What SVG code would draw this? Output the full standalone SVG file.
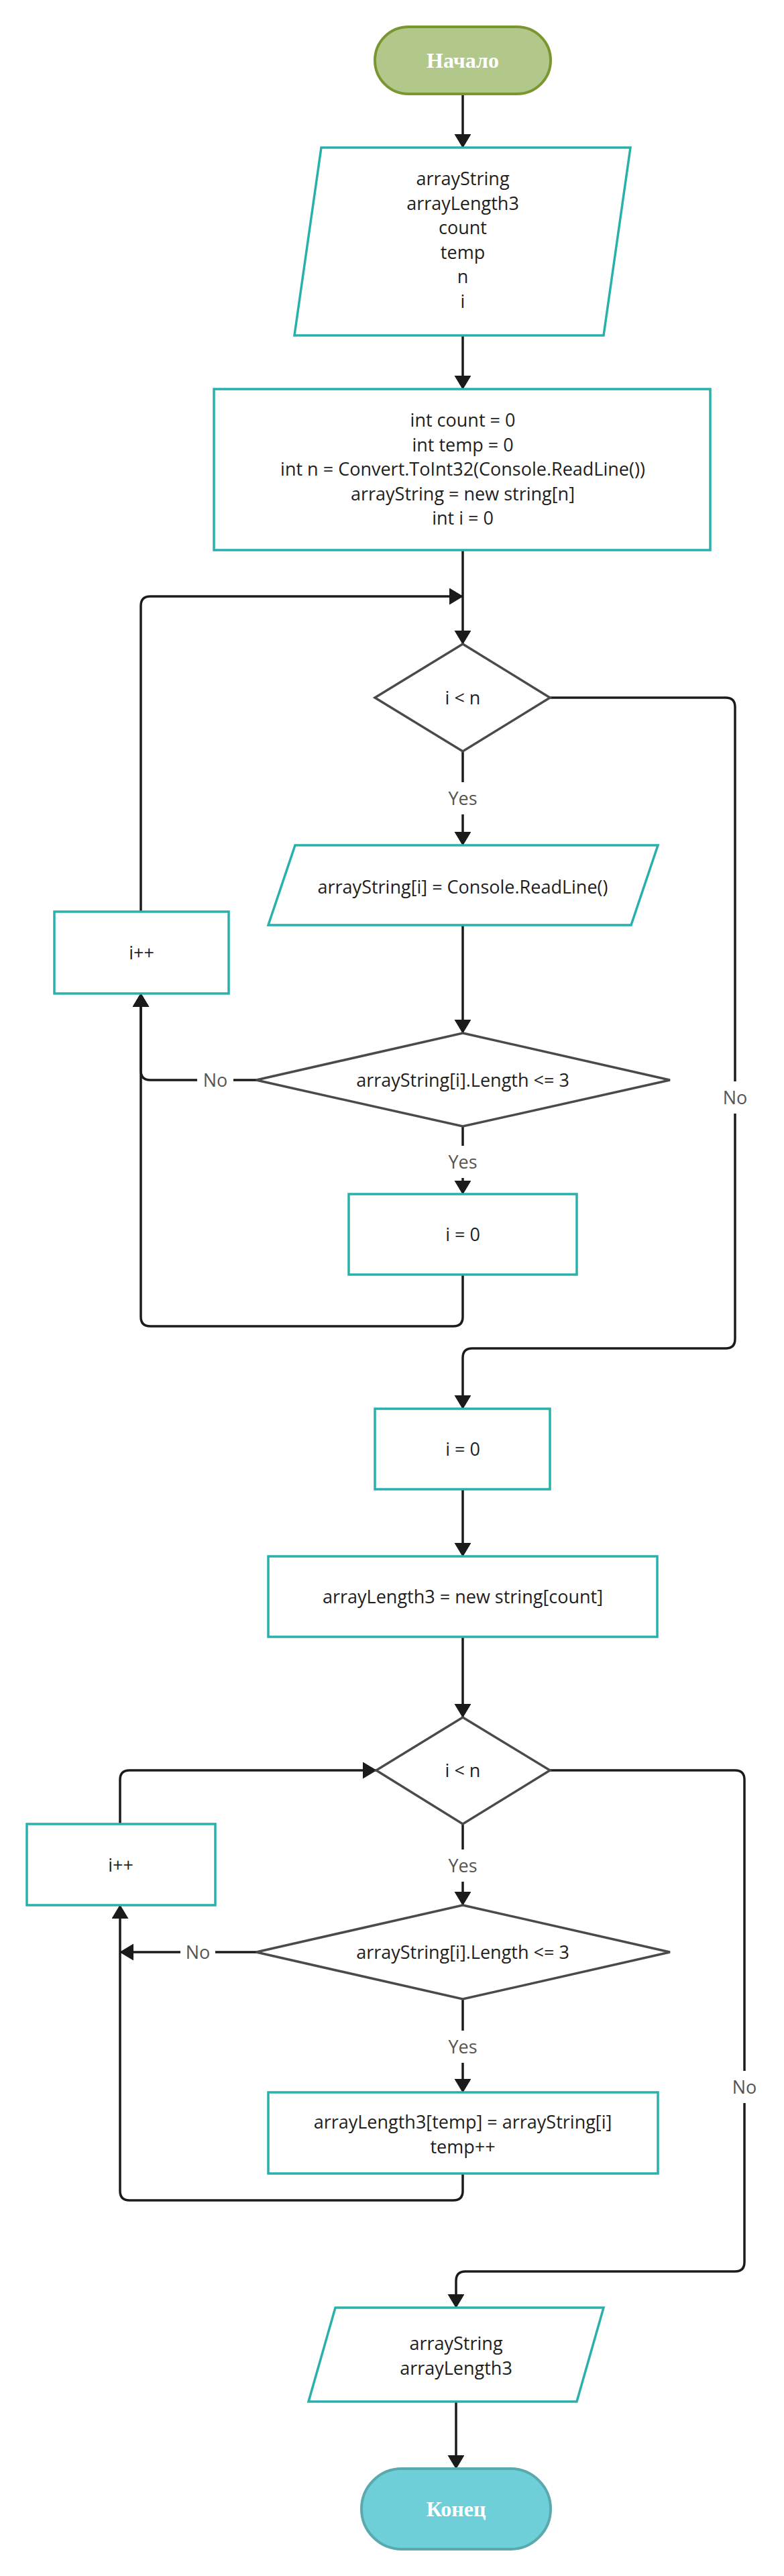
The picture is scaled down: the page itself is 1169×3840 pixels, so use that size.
<svg xmlns="http://www.w3.org/2000/svg" width="1169" height="3840" viewBox="0 0 1169 3840">
<style>
.proc{fill:#ffffff;stroke:#29b0ac;stroke-width:3.5}
.dec{fill:#ffffff;stroke:#4a4a4a;stroke-width:3.5}
.t{font-family:"Open Sans","Noto Sans",sans-serif;font-size:27px;fill:#1e1e1e;text-anchor:middle}
.lbl{font-family:"Open Sans","Noto Sans",sans-serif;font-size:27px;fill:#555555;text-anchor:middle}
.term{font-family:"Liberation Serif",serif;font-weight:bold;font-size:32px;fill:#ffffff;text-anchor:middle}
.c{fill:none;stroke:#1b1b1b;stroke-width:3.5}
.bg{fill:#ffffff}
</style>
<defs>
<marker id="ah" markerUnits="userSpaceOnUse" markerWidth="26" markerHeight="26" refX="20" refY="12" orient="auto">
<path d="M0,0 L20,12 L0,24 z" fill="#1b1b1b" stroke="#1b1b1b" stroke-width="1" stroke-linejoin="round"/>
</marker>
</defs>
<rect width="1169" height="3840" fill="#ffffff"/>

<g id="connectors">
<path class="c" d="M690,140 V220" marker-end="url(#ah)"/>
<path class="c" d="M690,500 V580" marker-end="url(#ah)"/>
<path class="c" d="M690,820 V960" marker-end="url(#ah)"/>
<path class="c" d="M210,1359 V903 Q210,889 224,889 H690" marker-end="url(#ah)"/>
<path class="c" d="M690,1120 V1260" marker-end="url(#ah)"/>
<path class="c" d="M690,1379 V1540" marker-end="url(#ah)"/>
<path class="c" d="M382,1610 H224 Q210,1610 210,1596 V1481" marker-end="url(#ah)"/>
<path class="c" d="M690,1679 V1780" marker-end="url(#ah)"/>
<path class="c" d="M690,1900 V1963 Q690,1977 676,1977 H224 Q210,1977 210,1963 V1481" marker-end="url(#ah)"/>
<path class="c" d="M820,1040 H1082 Q1096,1040 1096,1054 V1996 Q1096,2010 1082,2010 H704 Q690,2010 690,2024 V2100" marker-end="url(#ah)"/>
<path class="c" d="M690,2220 V2320" marker-end="url(#ah)"/>
<path class="c" d="M690,2440 V2560" marker-end="url(#ah)"/>
<path class="c" d="M179,2719 V2653 Q179,2639 193,2639 H561" marker-end="url(#ah)"/>
<path class="c" d="M690,2719 V2840" marker-end="url(#ah)"/>
<path class="c" d="M382,2910 H179" marker-end="url(#ah)"/>
<path class="c" d="M690,2980 V3119" marker-end="url(#ah)"/>
<path class="c" d="M690,3240 V3266 Q690,3280 676,3280 H193 Q179,3280 179,3266 V2840" marker-end="url(#ah)"/>
<path class="c" d="M820,2639 H1096 Q1110,2639 1110,2653 V3372 Q1110,3386 1096,3386 H694 Q680,3386 680,3400 V3440" marker-end="url(#ah)"/>
<path class="c" d="M680,3580 V3680" marker-end="url(#ah)"/>
<rect class="bg" x="664" y="1166" width="52" height="48"/>
<text class="lbl" x="690" y="1200">Yes</text>
<rect class="bg" x="1074" y="1612" width="44" height="48"/>
<text class="lbl" x="1096" y="1646">No</text>
<rect class="bg" x="294" y="1590" width="54" height="40"/>
<text class="lbl" x="321" y="1620">No</text>
<rect class="bg" x="664" y="1708" width="52" height="48"/>
<text class="lbl" x="690" y="1742">Yes</text>
<rect class="bg" x="664" y="2757" width="52" height="48"/>
<text class="lbl" x="690" y="2791">Yes</text>
<rect class="bg" x="269" y="2890" width="52" height="40"/>
<text class="lbl" x="295" y="2920">No</text>
<rect class="bg" x="664" y="3027" width="52" height="48"/>
<text class="lbl" x="690" y="3061">Yes</text>
<rect class="bg" x="1088" y="3087" width="44" height="48"/>
<text class="lbl" x="1110" y="3121">No</text>
</g>

<g id="start">
<rect x="559" y="40" width="262" height="100" rx="50" fill="#b2c78a" stroke="#7a9630" stroke-width="4"/>
<text class="term" x="690" y="101">Начало</text>
</g>

<g id="decl">
<polygon class="proc" points="479,220 940,220 900,500 439,500"/>
<text class="t" x="690" y="276"><tspan x="690">arrayString</tspan><tspan x="690" dy="36.5">arrayLength3</tspan><tspan x="690" dy="36.5">count</tspan><tspan x="690" dy="36.5">temp</tspan><tspan x="690" dy="36.5">n</tspan><tspan x="690" dy="36.5">i</tspan></text>
</g>

<g id="init">
<rect class="proc" x="319" y="580" width="740" height="240"/>
<text class="t" x="690" y="636"><tspan x="690">int count = 0</tspan><tspan x="690" dy="36.5">int temp = 0</tspan><tspan x="690" dy="36.5">int n = Convert.ToInt32(Console.ReadLine())</tspan><tspan x="690" dy="36.5">arrayString = new string[n]</tspan><tspan x="690" dy="36.5">int i = 0</tspan></text>
</g>

<g id="cond1">
<polygon class="dec" points="690,960 820,1040 690,1120 559,1040"/>
<text class="t" x="690" y="1050">i &lt; n</text>
</g>

<g id="read">
<polygon class="proc" points="440,1260 981,1260 941,1379 400,1379"/>
<text class="t" x="690" y="1332">arrayString[i] = Console.ReadLine()</text>
</g>

<g id="inc1">
<rect class="proc" x="81" y="1359" width="260" height="122"/>
<text class="t" x="211" y="1430">i++</text>
</g>

<g id="cond2">
<polygon class="dec" points="690,1540 999,1610 690,1679 382,1610"/>
<text class="t" x="690" y="1620">arrayString[i].Length &lt;= 3</text>
</g>

<g id="count">
<rect class="proc" x="520" y="1780" width="340" height="120"/>
<text class="t" x="690" y="1850">i = 0</text>
</g>

<g id="reset">
<rect class="proc" x="559" y="2100" width="261" height="120"/>
<text class="t" x="690" y="2170">i = 0</text>
</g>

<g id="alloc">
<rect class="proc" x="400" y="2320" width="580" height="120"/>
<text class="t" x="690" y="2390">arrayLength3 = new string[count]</text>
</g>

<g id="cond3">
<polygon class="dec" points="690,2560 820,2639 690,2719 561,2639"/>
<text class="t" x="690" y="2649">i &lt; n</text>
</g>

<g id="inc2">
<rect class="proc" x="40" y="2719" width="281" height="121"/>
<text class="t" x="180" y="2790">i++</text>
</g>

<g id="cond4">
<polygon class="dec" points="690,2840 999,2910 690,2980 382,2910"/>
<text class="t" x="690" y="2920">arrayString[i].Length &lt;= 3</text>
</g>

<g id="copy">
<rect class="proc" x="400" y="3119" width="581" height="121"/>
<text class="t" x="690" y="3173"><tspan x="690">arrayLength3[temp] = arrayString[i]</tspan><tspan x="690" dy="36.5">temp++</tspan></text>
</g>

<g id="output">
<polygon class="proc" points="500,3440 900,3440 860,3580 460,3580"/>
<text class="t" x="680" y="3503"><tspan x="680">arrayString</tspan><tspan x="680" dy="36.5">arrayLength3</tspan></text>
</g>

<g id="end">
<rect x="539" y="3680" width="282" height="120" rx="60" fill="#6fcfd9" stroke="#5aa9ae" stroke-width="4"/>
<text class="term" x="680" y="3751">Конец</text>
</g>
</svg>
